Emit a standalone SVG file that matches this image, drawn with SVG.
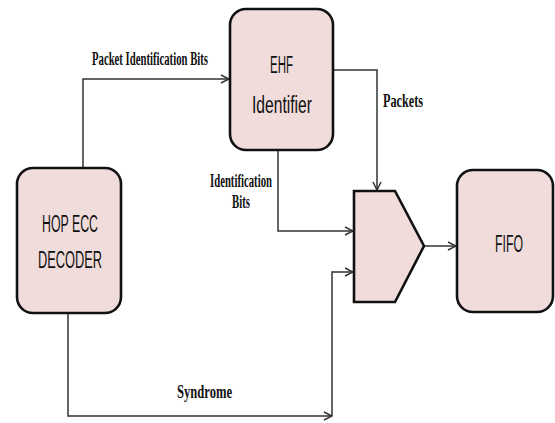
<svg xmlns="http://www.w3.org/2000/svg" width="555" height="423" viewBox="0 0 555 423">
  <style>
    .box { fill: #f0dcdb; stroke: #111; stroke-width: 2.6; }
    .wire { fill: none; stroke: #333; stroke-width: 1.5; }
    .node-label { font-family: "Liberation Sans Narrow", "Liberation Sans", sans-serif; font-size: 23px; fill: #111; }
    .edge-label { font-family: "Liberation Serif", serif; font-weight: bold; font-size: 18px; fill: #111; }
  </style>
  <defs>
    <marker id="chev" viewBox="0 0 10 10" refX="9" refY="5" markerWidth="10" markerHeight="10" markerUnits="userSpaceOnUse" orient="auto">
      <path d="M1,1 L9,5 L1,9" fill="none" stroke="#333" stroke-width="1.5"/>
    </marker>
  </defs>
  <rect width="555" height="423" fill="#fff"/>

  <!-- connectors -->
  <g id="connectors">
    <polyline class="wire" points="83,168 83,79 229,79" marker-end="url(#chev)"/>
    <polyline class="wire" points="333,70 377,70 377,190" marker-end="url(#chev)"/>
    <polyline class="wire" points="278,150 278,231 353,231" marker-end="url(#chev)"/>
    <polyline class="wire" points="68,313 68,416 332,416" marker-end="url(#chev)"/>
    <polyline class="wire" points="332,416 332,272 353,272" marker-end="url(#chev)"/>
    <polyline class="wire" points="416,246 456,246" marker-end="url(#chev)"/>
    <text class="edge-label" x="92" y="65" textLength="116" lengthAdjust="spacingAndGlyphs">Packet Identification Bits</text>
    <text class="edge-label" x="383" y="107" textLength="40" lengthAdjust="spacingAndGlyphs">Packets</text>
    <text class="edge-label" x="210" y="187" textLength="62" lengthAdjust="spacingAndGlyphs">Identification</text>
    <text class="edge-label" x="232" y="208" textLength="18" lengthAdjust="spacingAndGlyphs">Bits</text>
    <text class="edge-label" x="177" y="398" textLength="55" lengthAdjust="spacingAndGlyphs">Syndrome</text>
  </g>

  <g id="ehf-identifier">
    <rect class="box" x="230" y="9" width="103" height="141" rx="16"/>
    <text class="node-label" x="270" y="73" textLength="23" lengthAdjust="spacingAndGlyphs">EHF</text>
    <text class="node-label" x="252" y="113" textLength="60" lengthAdjust="spacingAndGlyphs">Identifier</text>
  </g>

  <g id="hop-ecc-decoder">
    <rect class="box" x="17" y="168" width="104" height="145" rx="16"/>
    <text class="node-label" x="42" y="232" textLength="56" lengthAdjust="spacingAndGlyphs">HOP ECC</text>
    <text class="node-label" x="38" y="268" textLength="64" lengthAdjust="spacingAndGlyphs">DECODER</text>
  </g>

  <g id="mux">
    <polygon class="box" points="354,191 395,191 424,246 395,302 354,302"/>
  </g>

  <g id="fifo">
    <rect class="box" x="457" y="170" width="96" height="142" rx="16"/>
    <text class="node-label" x="495" y="252" textLength="28" lengthAdjust="spacingAndGlyphs">FIFO</text>
  </g>
</svg>
